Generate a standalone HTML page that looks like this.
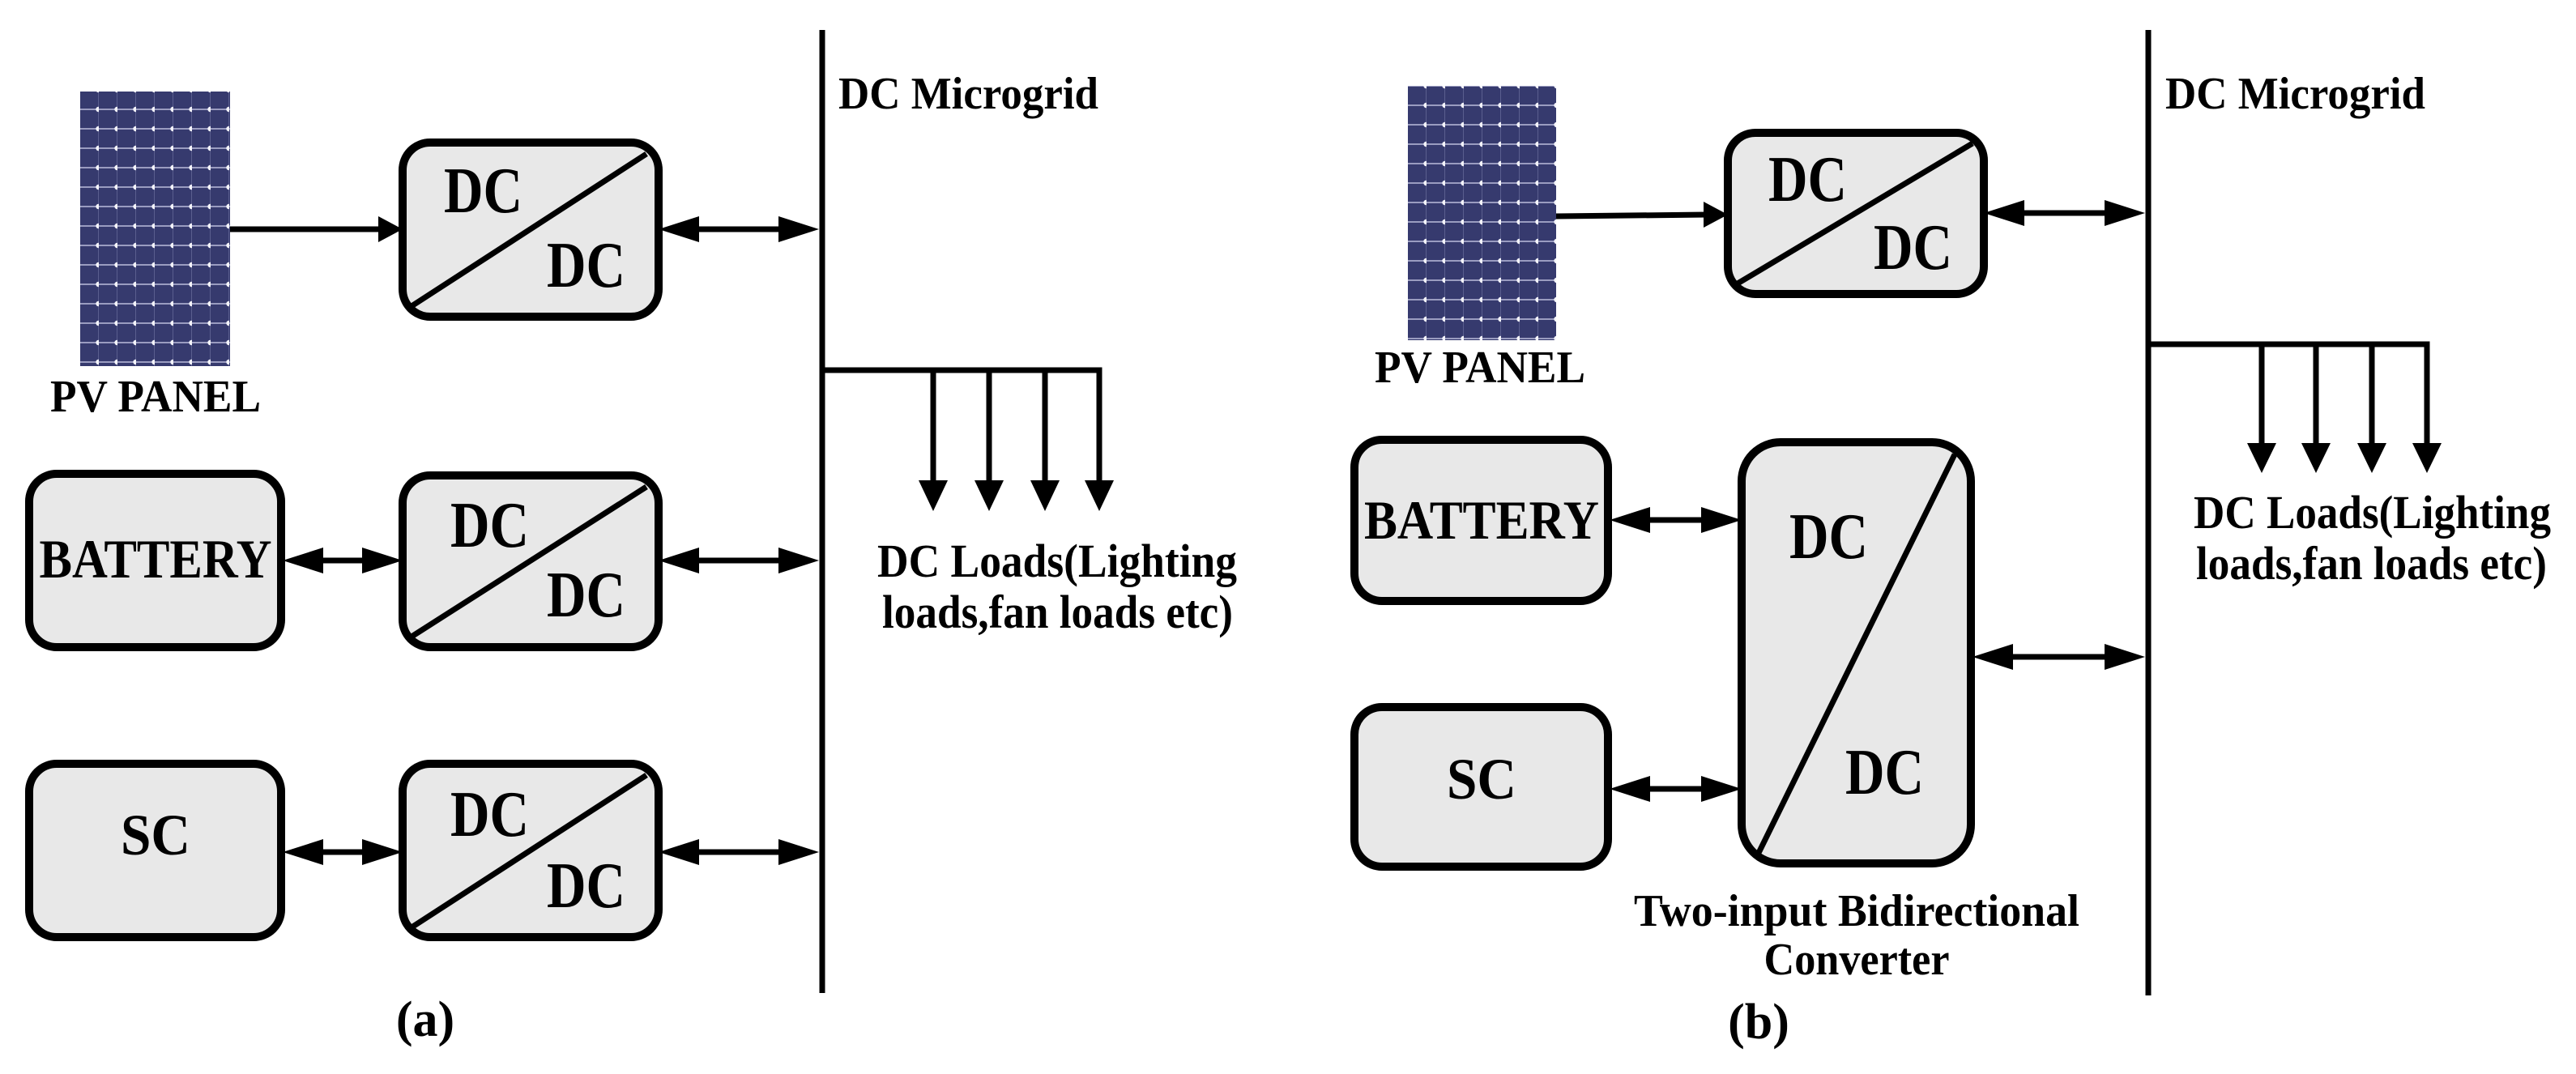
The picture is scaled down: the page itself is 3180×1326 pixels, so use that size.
<!DOCTYPE html>
<html><head><meta charset="utf-8"><style>html,body{margin:0;padding:0;background:#fff;overflow:hidden}svg{display:block}</style></head>
<body>
<svg width="3180" height="1326" viewBox="0 0 3180 1326" xmlns="http://www.w3.org/2000/svg">
<defs>
<pattern id="pv" x="99" y="100" width="23" height="24" patternUnits="userSpaceOnUse">
<rect width="23" height="24" fill="#363a6e"/>
<rect x="0" y="10" width="23" height="2" fill="#9a9cc0"/>
<rect x="22" y="0" width="1" height="24" fill="#5a5e8e"/>
<circle cx="22.5" cy="11" r="3.2" fill="#f4f4fa"/>
</pattern>
<pattern id="pv2" x="1738" y="95" width="23" height="24" patternUnits="userSpaceOnUse">
<rect width="23" height="24" fill="#363a6e"/>
<rect x="0" y="10" width="23" height="2" fill="#9a9cc0"/>
<rect x="22" y="0" width="1" height="24" fill="#5a5e8e"/>
<circle cx="22.5" cy="11" r="3.2" fill="#f4f4fa"/>
</pattern>
</defs>
<style>
.bx{fill:#e8e8e8;stroke:#000;stroke-width:10}
.ln{stroke:#000;stroke-width:7;fill:none}
.t{font-family:"Liberation Serif",serif;font-weight:bold;fill:#000}
</style>

<!-- ===== (a) ===== -->
<rect x="99" y="113" width="185" height="339" fill="url(#pv)"/>
<text class="t" x="192" y="508" font-size="56" text-anchor="middle" textLength="260" lengthAdjust="spacingAndGlyphs">PV PANEL</text>

<rect class="bx" x="497" y="176" width="316" height="215" rx="34"/>
<line class="ln" x1="508" y1="378" x2="798" y2="190" stroke-width="5"/>
<text class="t" x="548" y="262" font-size="80" textLength="97" lengthAdjust="spacingAndGlyphs">DC</text>
<text class="t" x="675" y="354" font-size="80" textLength="97" lengthAdjust="spacingAndGlyphs">DC</text>

<rect class="bx" x="497" y="587" width="316" height="212" rx="34"/>
<line class="ln" x1="508" y1="786" x2="798" y2="601" stroke-width="5"/>
<text class="t" x="556" y="675" font-size="80" textLength="97" lengthAdjust="spacingAndGlyphs">DC</text>
<text class="t" x="675" y="761" font-size="80" textLength="97" lengthAdjust="spacingAndGlyphs">DC</text>

<rect class="bx" x="497" y="943" width="316" height="214" rx="34"/>
<line class="ln" x1="508" y1="1145" x2="798" y2="957" stroke-width="5"/>
<text class="t" x="556" y="1032" font-size="80" textLength="97" lengthAdjust="spacingAndGlyphs">DC</text>
<text class="t" x="675" y="1120" font-size="80" textLength="97" lengthAdjust="spacingAndGlyphs">DC</text>

<rect class="bx" x="36" y="585" width="311" height="214" rx="34"/>
<text class="t" x="192" y="713" font-size="68" text-anchor="middle" textLength="287" lengthAdjust="spacingAndGlyphs">BATTERY</text>
<rect class="bx" x="36" y="943" width="311" height="214" rx="34"/>
<text class="t" x="192" y="1055" font-size="72" text-anchor="middle" textLength="86" lengthAdjust="spacingAndGlyphs">SC</text>

<line class="ln" x1="1015" y1="37" x2="1015" y2="1226"/>
<text class="t" x="1035" y="134" font-size="56" textLength="321" lengthAdjust="spacingAndGlyphs">DC Microgrid</text>

<line class="ln" x1="284" y1="283" x2="470" y2="283"/>
<polygon points="497,283 467,267 467,299"/>
<line class="ln" x1="835" y1="283" x2="985" y2="283"/>
<polygon points="813,283 863,267 863,299"/>
<polygon points="1011,283 961,267 961,299"/>

<line class="ln" x1="370" y1="692" x2="475" y2="692"/>
<polygon points="349,692 399,676 399,708"/>
<polygon points="497,692 447,676 447,708"/>
<line class="ln" x1="835" y1="692" x2="985" y2="692"/>
<polygon points="813,692 863,676 863,708"/>
<polygon points="1011,692 961,676 961,708"/>

<line class="ln" x1="370" y1="1052" x2="475" y2="1052"/>
<polygon points="349,1052 399,1036 399,1068"/>
<polygon points="497,1052 447,1036 447,1068"/>
<line class="ln" x1="835" y1="1052" x2="985" y2="1052"/>
<polygon points="813,1052 863,1036 863,1068"/>
<polygon points="1011,1052 961,1036 961,1068"/>

<polyline class="ln" points="1015,457 1357,457 1357,600"/>
<line class="ln" x1="1152" y1="457" x2="1152" y2="600"/>
<line class="ln" x1="1221" y1="457" x2="1221" y2="600"/>
<line class="ln" x1="1290" y1="457" x2="1290" y2="600"/>
<polygon points="1152,631 1134,593 1170,593"/>
<polygon points="1221,631 1203,593 1239,593"/>
<polygon points="1290,631 1272,593 1308,593"/>
<polygon points="1357,631 1339,593 1375,593"/>
<text class="t" x="1083" y="712" font-size="58" textLength="444" lengthAdjust="spacingAndGlyphs">DC Loads(Lighting</text>
<text class="t" x="1089" y="775" font-size="58" textLength="433" lengthAdjust="spacingAndGlyphs">loads,fan loads etc)</text>
<text class="t" x="525" y="1279" font-size="62" text-anchor="middle">(a)</text>

<!-- ===== (b) ===== -->
<rect x="1738" y="106" width="183" height="314" fill="url(#pv2)"/>
<text class="t" x="1827" y="472" font-size="56" text-anchor="middle" textLength="260" lengthAdjust="spacingAndGlyphs">PV PANEL</text>

<rect class="bx" x="2133" y="164" width="316" height="199" rx="34"/>
<line class="ln" x1="2145" y1="350" x2="2435" y2="177" stroke-width="5"/>
<text class="t" x="2183" y="248" font-size="80" textLength="97" lengthAdjust="spacingAndGlyphs">DC</text>
<text class="t" x="2313" y="332" font-size="80" textLength="97" lengthAdjust="spacingAndGlyphs">DC</text>

<rect class="bx" x="1672" y="543" width="313" height="199" rx="34"/>
<text class="t" x="1829" y="665" font-size="68" text-anchor="middle" textLength="290" lengthAdjust="spacingAndGlyphs">BATTERY</text>
<rect class="bx" x="1672" y="873" width="313" height="197" rx="34"/>
<text class="t" x="1829" y="986" font-size="72" text-anchor="middle" textLength="86" lengthAdjust="spacingAndGlyphs">SC</text>

<rect class="bx" x="2150" y="546" width="283" height="520" rx="48"/>
<line class="ln" x1="2171" y1="1053" x2="2413" y2="561" stroke-width="5"/>
<text class="t" x="2209" y="689" font-size="80" textLength="97" lengthAdjust="spacingAndGlyphs">DC</text>
<text class="t" x="2278" y="980" font-size="80" textLength="97" lengthAdjust="spacingAndGlyphs">DC</text>
<text class="t" x="2292" y="1143" font-size="56" text-anchor="middle" textLength="550" lengthAdjust="spacingAndGlyphs">Two-input Bidirectional</text>
<text class="t" x="2292" y="1203" font-size="56" text-anchor="middle" textLength="229" lengthAdjust="spacingAndGlyphs">Converter</text>

<line class="ln" x1="2652" y1="37" x2="2652" y2="1229"/>
<text class="t" x="2673" y="134" font-size="56" textLength="321" lengthAdjust="spacingAndGlyphs">DC Microgrid</text>

<line class="ln" x1="1921" y1="267" x2="2108" y2="265"/>
<polygon points="2133,265 2103,249 2103,281"/>
<line class="ln" x1="2470" y1="263" x2="2622" y2="263"/>
<polygon points="2449,263 2499,247 2499,279"/>
<polygon points="2648,263 2598,247 2598,279"/>

<line class="ln" x1="2007" y1="642" x2="2125" y2="642"/>
<polygon points="1987,642 2037,626 2037,658"/>
<polygon points="2150,642 2100,626 2100,658"/>
<line class="ln" x1="2007" y1="974" x2="2125" y2="974"/>
<polygon points="1987,974 2037,958 2037,990"/>
<polygon points="2150,974 2100,958 2100,990"/>
<line class="ln" x1="2455" y1="811" x2="2622" y2="811"/>
<polygon points="2435,811 2485,795 2485,827"/>
<polygon points="2648,811 2598,795 2598,827"/>

<polyline class="ln" points="2652,425 2996,425 2996,554"/>
<line class="ln" x1="2792" y1="425" x2="2792" y2="554"/>
<line class="ln" x1="2859" y1="425" x2="2859" y2="554"/>
<line class="ln" x1="2928" y1="425" x2="2928" y2="554"/>
<polygon points="2792,584 2774,547 2810,547"/>
<polygon points="2859,584 2841,547 2877,547"/>
<polygon points="2928,584 2910,547 2946,547"/>
<polygon points="2996,584 2978,547 3014,547"/>
<text class="t" x="2708" y="652" font-size="58" textLength="441" lengthAdjust="spacingAndGlyphs">DC Loads(Lighting</text>
<text class="t" x="2711" y="715" font-size="58" textLength="433" lengthAdjust="spacingAndGlyphs">loads,fan loads etc)</text>
<text class="t" x="2171" y="1282" font-size="62" text-anchor="middle">(b)</text>
</svg>
</body></html>
